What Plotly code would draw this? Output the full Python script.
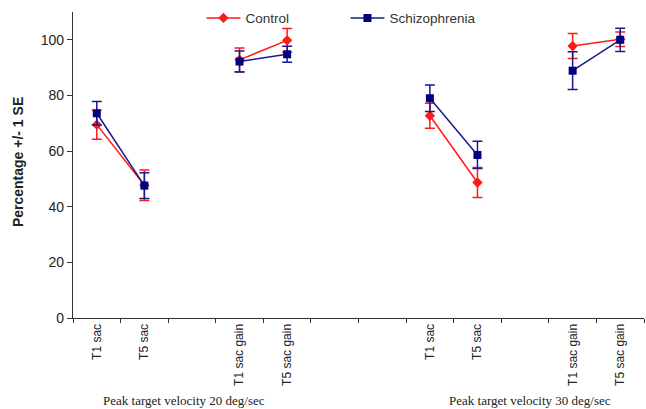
import plotly.graph_objects as go

# slots along the x axis (12 category slots; blanks are gaps)
slots = list(range(1, 13))
tick_slots = [1, 2, 4, 5, 8, 9, 11, 12]
tick_labels = ["T1 sac", "T5 sac", "T1 sac gain", "T5 sac gain",
               "T1 sac", "T5 sac", "T1 sac gain", "T5 sac gain"]

control_vals = [69.5, 47.7, None, 92.8, 99.8, None, None, 72.7, 48.7, None, 97.8, 100.2]
control_se = [5.2, 5.5, None, 4.3, 4.3, None, None, 4.5, 5.4, None, 4.5, 2.6]
schiz_vals = [73.6, 47.6, None, 92.2, 94.8, None, None, 79.0, 58.6, None, 88.9, 100.0]
schiz_se = [4.2, 4.6, None, 3.8, 2.9, None, None, 4.8, 4.9, None, 6.8, 4.2]

group_labels = ["Peak target velocity 20 deg/sec", "Peak target velocity 30 deg/sec"]
group_centers = [2.83, 10.1]

fig = go.Figure()
fig.add_trace(go.Scatter(
    x=slots, y=control_vals, name="Control", mode="lines+markers",
    line=dict(color="#FF1A1A", width=1.5),
    marker=dict(symbol="diamond", size=8, color="#FF1A1A"),
    error_y=dict(type="data", array=control_se, color="#FF1A1A", thickness=1.5, width=5),
))
fig.add_trace(go.Scatter(
    x=slots, y=schiz_vals, name="Schizophrenia", mode="lines+markers",
    line=dict(color="#1A1A8C", width=1.5),
    marker=dict(symbol="square", size=8, color="#000080"),
    error_y=dict(type="data", array=schiz_se, color="#1A1A8C", thickness=1.5, width=5),
))

for lab, c in zip(group_labels, group_centers):
    fig.add_annotation(x=c, y=-0.271, xref="x", yref="paper", text=lab, showarrow=False,
                       font=dict(family="Liberation Serif", size=13, color="#222"),
                       xanchor="center", yanchor="middle")

fig.add_annotation(x=-0.096, y=0.51, xref="paper", yref="paper",
                   text="<b>Percentage +/- 1 SE</b>", textangle=-90, showarrow=False,
                   font=dict(family="Liberation Sans", size=14, color="#222"),
                   xanchor="center", yanchor="middle")

fig.update_layout(
    width=646, height=409,
    margin=dict(l=73, r=2, t=12, b=91),
    paper_bgcolor="white", plot_bgcolor="white",
    font=dict(family="Liberation Sans", color="#222"),
    showlegend=True,
    legend=dict(orientation="h", x=0.225, y=0.98, xanchor="left", yanchor="middle",
                font=dict(size=13.5, color="#333"), itemwidth=34,
                entrywidth=95, bgcolor="rgba(0,0,0,0)"),
    xaxis=dict(range=[0.5, 12.5], tickvals=tick_slots, ticktext=tick_labels,
               tickangle=-90, ticks="", showgrid=False, zeroline=False, automargin=False,
               showline=True, linecolor="#333", linewidth=1.2,
               tickfont=dict(size=12, color="#222"),
               minor=dict(tickvals=[x + 0.5 for x in range(0, 13)], ticks="outside",
                          ticklen=4, tickcolor="#333", showgrid=False)),
    yaxis=dict(range=[0, 110], tickvals=[0, 20, 40, 60, 80, 100], ticks="outside",
               ticklen=5, tickcolor="#333", showgrid=False, zeroline=False, automargin=False,
               showline=True, linecolor="#333", linewidth=1.2,
               tickprefix="<b>", ticksuffix="</b>",
               tickfont=dict(size=14, color="#222", family="Liberation Sans")),
)

fig.write_html("out.html", config={"displayModeBar": False},
               post_script="document.body.style.margin='0';document.body.style.padding='0';")
